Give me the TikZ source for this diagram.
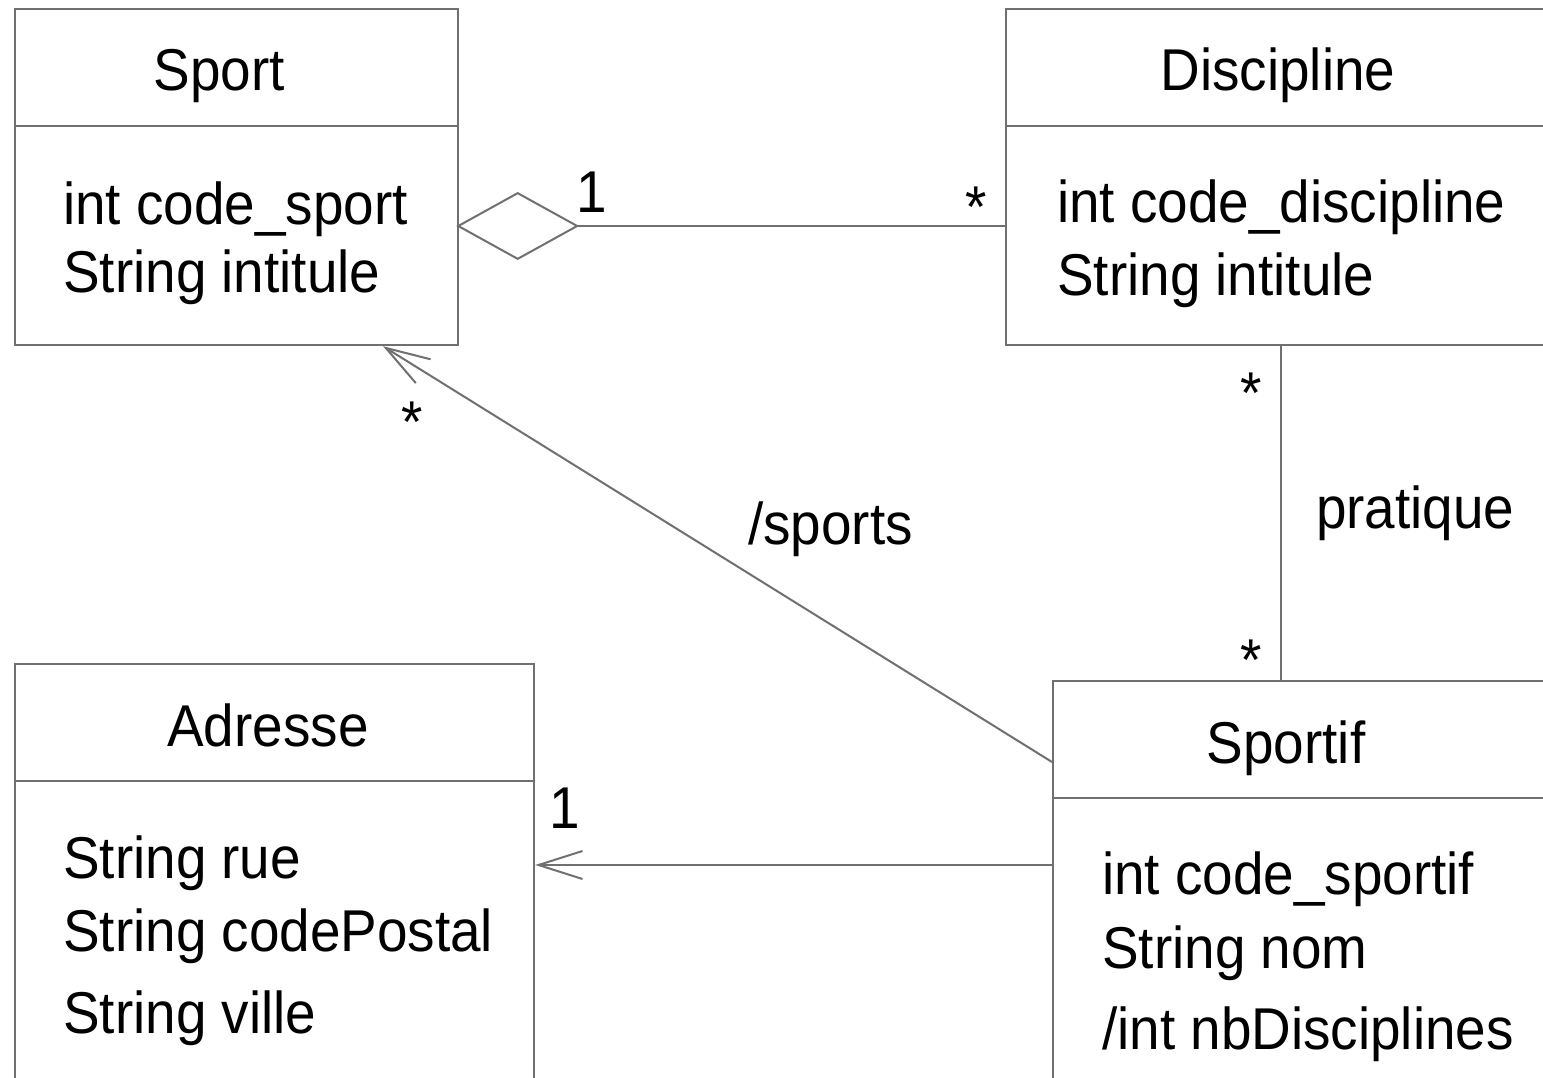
\documentclass[tikz,border=0pt]{standalone}
\usepackage{fontspec}
\setmainfont{Liberation Sans}[FakeStretch=0.93]
\usetikzlibrary{arrows.meta}
\definecolor{umlgray}{RGB}{112,112,112}
\tikzset{
  classbox/.style={draw=umlgray, line width=2.2pt, rectangle, inner sep=0pt, anchor=north west},
  divider/.style={draw=umlgray, line width=2.2pt},
  assoc/.style={draw=umlgray, line width=2pt},
  txt/.style={inner sep=0pt, font=\fontsize{59}{61}\selectfont, text=black},
  attr/.style={txt, anchor=base west},
  ttl/.style={txt, anchor=base},
  mult/.style={txt, anchor=north},
  navarrow/.style={-{Straight Barb[length=44pt,width=28pt]}},
  aggtip/.style={{Diamond[open,length=123pt,width=68pt]}-, shorten <=-3pt}
}
\begin{document}
\begin{tikzpicture}[x=1pt,y=-1pt]
\useasboundingbox (0,0) rectangle (1543,1078);
\clip (0,0) rectangle (1543,1078);
\fill[white] (0,0) rectangle (1543,1078);

% class boxes
\node[classbox, minimum width=443pt, minimum height=336pt] (sport) at (14,8) {};
\node[classbox, minimum width=560pt, minimum height=336pt] (discipline) at (1005,8) {};
\node[classbox, minimum width=519pt, minimum height=460pt] (adresse) at (14,663) {};
\node[classbox, minimum width=520pt, minimum height=440pt] (sportif) at (1052,680) {};

% dividers
\draw[divider] (sport.west |- 0,126) -- (sport.east |- 0,126);
\draw[divider] (discipline.west |- 0,126) -- (discipline.east |- 0,126);
\draw[divider] (adresse.west |- 0,781) -- (adresse.east |- 0,781);
\draw[divider] (sportif.west |- 0,798) -- (sportif.east |- 0,798);

% titles
\node[ttl] (sportT) at (219,91) {Sport};
\node[ttl] (disciplineT) at (1278,91) {Discipline};
\node[ttl] (adresseT) at (268,746) {Adresse};
\node[ttl] (sportifT) at (1286,763) {Sportif};

% attributes
\node[attr] (sportA1) at (63,225) {int code\_sport};
\node[attr] (sportA2) at (63,293) {String intitule};
\node[attr] (discA1) at (1057,223) {int code\_discipline};
\node[attr] (discA2) at (1057,295) {String intitule};
\node[attr] (adrA1) at (63,878) {String rue};
\node[attr] (adrA2) at (63,951) {String codePostal};
\node[attr] (adrA3) at (63,1033) {String ville};
\node[attr] (spfA1) at (1102,894) {int code\_sportif};
\node[attr] (spfA2) at (1102,968) {String nom};
\node[attr] (spfA3) at (1102,1049) {/int nbDisciplines};

% connectors
\draw[assoc, aggtip] (sport.east |- 0,226) -- (discipline.west |- 0,226);
\draw[assoc] (discipline.south -| 1281,0) -- (sportif.north -| 1281,0);
\draw[assoc, navarrow] (sportif.west |- 0,762) -- (sport.south -| 383,0);
\draw[assoc, navarrow] (sportif.west |- 0,865) -- (adresse.east |- 0,865);

% multiplicities and labels
\node[mult] (m1) at (592,172) {1};
\node[mult] (m2) at (976,187) {*};
\node[mult] (m3) at (1251,373) {*};
\node[mult] (m4) at (1251,640) {*};
\node[mult] (m5) at (412,402) {*};
\node[mult] (m6) at (565,788) {1};
\node[txt, anchor=base west] (lsports) at (748,544) {/sports};
\node[txt, anchor=base west] (lpratique) at (1316,528) {pratique};
\end{tikzpicture}
\end{document}
